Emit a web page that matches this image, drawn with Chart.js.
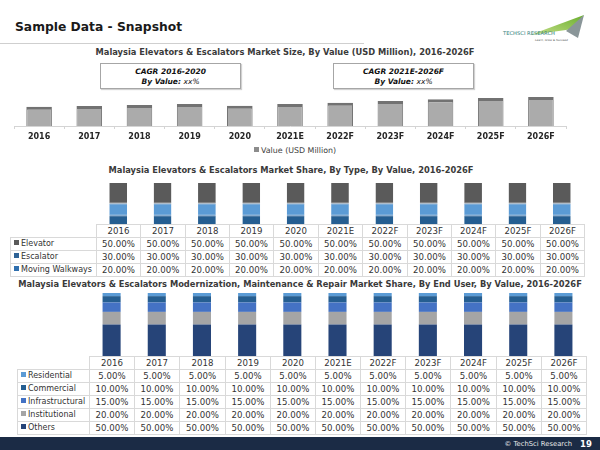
<!DOCTYPE html>
<html><head><meta charset="utf-8">
<script src="https://cdn.jsdelivr.net/npm/chart.js@4"></script>
<style>
html,body{margin:0;padding:0;background:#fff;}
body{width:600px;height:450px;position:relative;overflow:hidden;font-family:"DejaVu Sans",Verdana,sans-serif;color:#404040;}
.abs{position:absolute;}
#title{left:15px;top:20px;font-size:12.3px;line-height:15px;font-weight:bold;color:#1a1a1a;white-space:nowrap;}
#rule{left:0;top:43px;width:364px;height:1px;background:#cfcfcf;}
.ctitle{font-weight:bold;font-size:8.3px;line-height:10px;color:#3a3a3a;white-space:nowrap;transform:translateX(-50%);}
.cagr{border:1px solid #a6a6a6;box-shadow:1px 1px 1px rgba(0,0,0,0.18);text-align:center;font-size:7.5px;font-weight:bold;font-style:italic;line-height:10px;color:#111;box-sizing:border-box;padding-top:3px;background:#fff;}
.cagr span{font-weight:normal;}
.leg{font-size:7.9px;line-height:10px;color:#404040;white-space:nowrap;}
.mk{display:inline-block;width:5px;height:5px;margin-right:2px;vertical-align:1px;}
.cell{position:absolute;box-sizing:border-box;border:1px solid #d9d9d9;font-size:8.6px;color:#333;text-align:center;line-height:12px;white-space:nowrap;overflow:hidden;}
.lab{text-align:left;padding-left:3px;font-size:8px;}
#footer{left:0;top:437px;width:600px;height:13px;background:#1b2b45;}
#ftxt{right:28px;top:440px;font-size:6.8px;line-height:8px;color:#e8e8e8;}
#fnum{left:580px;top:439px;font-size:8.5px;line-height:10px;font-weight:bold;color:#fff;}
canvas{position:absolute;}
</style>
</head><body>
<div id="title" class="abs">Sample Data - Snapshot</div>
<div id="rule" class="abs"></div>
<svg class="abs" style="left:500px;top:8px" width="95" height="40" viewBox="500 8 95 40">
  <defs><linearGradient id="lg" x1="0" y1="1" x2="1" y2="0"><stop offset="0" stop-color="#c7e08a"/><stop offset="1" stop-color="#6aae2e"/></linearGradient></defs>
  <polygon points="530,35 584,15 573,29" fill="url(#lg)"/>
  <polygon points="566,31 584,15 578,38" fill="#8a9699"/>
  <text x="503" y="35" font-family="DejaVu Sans" font-size="5.2" fill="#2b7c78">TECHSCI RESEARCH</text>
  <text x="535" y="41" font-family="DejaVu Sans" font-size="2.8" fill="#555" font-style="italic">Learn, Grow &amp; Succeed</text>
</svg>

<div class="abs ctitle" style="left:285px;top:47px">Malaysia Elevators &amp; Escalators Market Size, By Value (USD Million), 2016-2026F</div>
<div class="abs cagr" style="left:100px;top:63px;width:141px;height:26px">CAGR 2016-2020<br>By Value: <span>xx%</span></div>
<div class="abs cagr" style="left:333px;top:63px;width:141px;height:26px">CAGR 2021E-2026F<br>By Value: <span>xx%</span></div>
<canvas id="c1" width="600" height="54" style="left:0;top:92px"></canvas>
<div class="abs leg" style="left:254px;top:146px"><span class="mk" style="background:#8c8c8c"></span>Value (USD Million)</div>

<div class="abs ctitle" style="left:291px;top:165px">Malaysia Elevators &amp; Escalators Market Share, By Type, By Value, 2016-2026F</div>
<canvas id="c2" width="488" height="41" style="left:96px;top:183px"></canvas>
<div id="t2"></div>

<div class="abs ctitle" style="left:300px;top:279px">Malaysia Elevators &amp; Escalators Modernization, Maintenance &amp; Repair Market Share, By End User, By Value, 2016-2026F</div>
<canvas id="c3" width="497" height="63" style="left:89px;top:293px"></canvas>
<div id="t3"></div>

<div id="footer" class="abs"></div>
<div id="ftxt" class="abs">© TechSci Research</div>
<div id="fnum" class="abs">19</div>

<script>
// ---- data ----
const years = ['2016','2017','2018','2019','2020','2021E','2022F','2023F','2024F','2025F','2026F'];
const marketValue = [1930,2000,2100,2200,2030,2200,2330,2500,2670,2800,2900];

const typeNames = ['Elevator','Escalator','Moving Walkways'];
const elevatorShare = [50,50,50,50,50,50,50,50,50,50,50];
const escalatorShare = [30,30,30,30,30,30,30,30,30,30,30];
const walkwayShare = [20,20,20,20,20,20,20,20,20,20,20];

const endUserNames = ['Residential','Commercial','Infrastructural','Institutional','Others'];
const residentialShare = [5,5,5,5,5,5,5,5,5,5,5];
const commercialShare = [10,10,10,10,10,10,10,10,10,10,10];
const infrastructuralShare = [15,15,15,15,15,15,15,15,15,15,15];
const institutionalShare = [20,20,20,20,20,20,20,20,20,20,20];
const othersShare = [50,50,50,50,50,50,50,50,50,50,50];

// ---- styles ----
const FONT = 'DejaVu Sans';
const typeColors = ['#5a5a5a','#5b9bd5','#255e91'];
const typeBorders = ['#5a5a5a','#3c78b4','#255e91'];
const typeMarkers = ['#5a5a5a','#2e6396','#2f6fae'];
const userColors = ['#5b9bd5','#255e91','#4472c4','#a5a5a5','#264478'];

const base = {
  responsive:false, animation:false, devicePixelRatio:1,
  plugins:{legend:{display:false}, tooltip:{enabled:false}}
};

// Chart 1
new Chart(document.getElementById('c1'), {
  type:'bar',
  data:{labels:years, datasets:[{
    label:'Value (USD Million)', data:marketValue,
    backgroundColor:'#ababab', borderColor:'#727272',
    borderWidth:{top:3,left:1,right:1,bottom:0},
    categoryPercentage:1, barPercentage:0.51
  }]},
  options:Object.assign({}, base, {
    layout:{padding:{left:14,right:34,top:0,bottom:0}},
    scales:{
      x:{grid:{display:true,drawOnChartArea:false,drawTicks:true,tickLength:3,color:'#d4d4d4',offset:true},
         border:{display:true,color:'#d4d4d4'},
         ticks:{font:{family:FONT,weight:'bold',size:8},color:'#262626',padding:3,maxRotation:0,autoSkip:false},
         afterFit:s=>{s.height=20;}},
      y:{display:false,min:0,max:3400}
    }
  })
});

function stackChart(id, names, series, colors, borders){
  const ds = names.map((n,i)=>({label:n,data:series[i],backgroundColor:colors[i],
    borderColor:(borders||colors)[i],borderWidth:borders?{top:1,bottom:1,left:0,right:0}:0,borderSkipped:false,
    categoryPercentage:1,barPercentage:0.4})).reverse();
  new Chart(document.getElementById(id), {
    type:'bar', data:{labels:years, datasets:ds},
    options:Object.assign({}, base, {
      layout:{padding:0},
      scales:{x:{display:false,stacked:true},y:{display:false,stacked:true,min:0,max:100}}
    })
  });
}
stackChart('c2', typeNames, [elevatorShare,escalatorShare,walkwayShare], typeColors, typeBorders);
stackChart('c3', endUserNames, [residentialShare,commercialShare,infrastructuralShare,institutionalShare,othersShare], userColors);

function buildTable(el, x0, labW, x1, y0, rowH, names, series, markers){
  const n = years.length, w = (x1-(x0+labW))/n;
  const xs = i => Math.round(x0+labW+i*w);
  let html='';
  years.forEach((y,i)=>{
    html+=`<div class="cell" style="left:${xs(i)}px;top:${y0}px;width:${xs(i+1)-xs(i)+1}px;height:${rowH+1}px">${y}</div>`;
  });
  names.forEach((nm,r)=>{
    const top = y0+(r+1)*rowH;
    html+=`<div class="cell lab" style="left:${x0}px;top:${top}px;width:${labW+1}px;height:${rowH+1}px"><span class="mk" style="background:${markers[r]}"></span>${nm}</div>`;
    series[r].forEach((v,i)=>{
      html+=`<div class="cell" style="left:${xs(i)}px;top:${top}px;width:${xs(i+1)-xs(i)+1}px;height:${rowH+1}px">${v.toFixed(2)}%</div>`;
    });
  });
  document.getElementById(el).innerHTML = html;
}
buildTable('t2', 10, 86, 584, 224, 13, typeNames, [elevatorShare,escalatorShare,walkwayShare], typeMarkers);
buildTable('t3', 17, 72, 586, 356, 13, endUserNames, [residentialShare,commercialShare,infrastructuralShare,institutionalShare,othersShare], userColors);
</script>
</body></html>
